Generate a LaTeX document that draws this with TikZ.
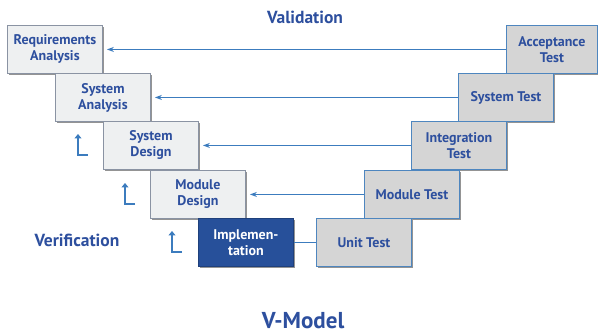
\documentclass[tikz,border=0pt]{standalone}
\usepackage{fontspec}
\setmainfont{PT Sans}
\usetikzlibrary{arrows.meta,shadows}
\definecolor{txtblue}{HTML}{2D4F9E}
\definecolor{lineblue}{HTML}{3C7CBE}
\definecolor{lboxfill}{HTML}{EEF0F1}
\definecolor{lboxdraw}{HTML}{8A93A3}
\definecolor{rboxfill}{HTML}{D5D5D5}
\definecolor{rboxdraw}{HTML}{4E86BF}
\definecolor{implfill}{HTML}{27509A}
\begin{document}
\begin{tikzpicture}[x=1pt,y=-1pt,
  box/.style={minimum width=95pt, minimum height=48pt, anchor=north west, inner sep=0pt,
    align=center, font=\bfseries\fontsize{14}{16}\selectfont, text=txtblue, line width=0.9pt,
    drop shadow={shadow xshift=1.6pt, shadow yshift=-1.6pt, fill=black!70, opacity=0.6}},
  lbox/.style={box, fill=lboxfill, draw=lboxdraw},
  rbox/.style={box, fill=rboxfill, draw=rboxdraw},
  ibox/.style={box, fill=implfill, draw=implfill!80!black, text=white},
  conn/.style={draw=lineblue, line width=1pt, -{Stealth[length=7pt,width=5pt]}, shorten >=4pt},
  plainconn/.style={draw=lineblue, line width=1pt},
  uparrow/.style={draw=lineblue, line width=1.8pt, -{Triangle[length=4.5pt,width=7pt]}},
  lbl/.style={font=\bfseries\fontsize{17.5}{19}\selectfont, text=txtblue}]
\useasboundingbox (0,0) rectangle (598,336);
% left side
\node[lbox] (ra) at (7,25) {Requirements\\Analysis};
\node[lbox] (sa) at (55,73) {System\\Analysis};
\node[lbox] (sd) at (103,121) {System\\Design};
\node[lbox] (md) at (150,170) {Module\\Design};
\node[ibox] (im) at (198,218) {Implemen-\\tation};
% right side
\node[rbox, minimum width=91pt] (at) at (506,25) {Acceptance\\Test};
\node[rbox] (st) at (458,73) {System Test};
\node[rbox] (it) at (411,121) {Integration\\Test};
\node[rbox] (mt) at (364,170) {Module Test};
\node[rbox] (ut) at (316,218) {Unit Test};
% connectors
\draw[conn] (at.west) -- (ra.east);
\draw[conn] (st.west) -- (sa.east);
\draw[conn] (it.west) -- (sd.east);
\draw[conn] (mt.west) -- (md.east);
\draw[plainconn] (ut.west) -- (im.east);
% verification arrows
\coordinate (a1s) at (88,155); \coordinate (a1c) at (78,155); \coordinate (a1e) at (78,134);
\coordinate (a2s) at (135,204); \coordinate (a2c) at (125,204); \coordinate (a2e) at (125,183);
\coordinate (a3s) at (182,252); \coordinate (a3c) at (172,252); \coordinate (a3e) at (172,231);
\draw[uparrow] (a1s) -- (a1c) -- (a1e);
\draw[uparrow] (a2s) -- (a2c) -- (a2e);
\draw[uparrow] (a3s) -- (a3c) -- (a3e);
% labels
\node[lbl] (val) at (305,17) {Validation};
\node[lbl] (ver) at (77,240) {Verification};
\node[font=\bfseries\fontsize{23}{25}\selectfont, text=txtblue] (vm) at (303,321) {V-Model};
\end{tikzpicture}
\end{document}
